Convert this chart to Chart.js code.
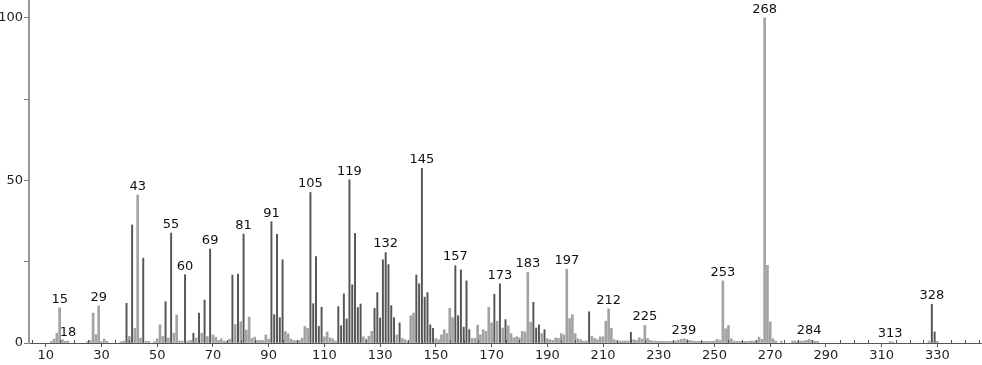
<!DOCTYPE html>
<html>
<head>
<meta charset="utf-8">
<title>Mass spectrum</title>
<script src="https://cdn.jsdelivr.net/npm/chart.js@4"></script>
<style>
  html, body { margin: 0; padding: 0; background: #fff; }
  #wrap { width: 982px; height: 365px; position: relative; }
</style>
</head>
<body>
<div id="wrap"><canvas id="spectrum"></canvas></div>
<script>
// m/z values and relative intensities (%)
const masses = [
  12, 13, 14, 15, 16, 17, 18, 25, 26, 27, 28, 29, 30, 31, 32, 37, 38, 39, 40, 41,
  42, 43, 44, 45, 46, 47, 49, 50, 51, 52, 53, 54, 55, 56, 57, 58, 59, 60, 61, 62,
  63, 64, 65, 66, 67, 68, 69, 70, 71, 72, 73, 74, 75, 76, 77, 78, 79, 80, 81, 82,
  83, 84, 85, 86, 87, 88, 89, 90, 91, 92, 93, 94, 95, 96, 97, 98, 99, 100, 101, 102,
  103, 104, 105, 106, 107, 108, 109, 110, 111, 112, 113, 114, 115, 116, 117, 118, 119, 120, 121, 122,
  123, 124, 125, 126, 127, 128, 129, 130, 131, 132, 133, 134, 135, 136, 137, 138, 139, 140, 141, 142,
  143, 144, 145, 146, 147, 148, 149, 150, 151, 152, 153, 154, 155, 156, 157, 158, 159, 160, 161, 162,
  163, 164, 165, 166, 167, 168, 169, 170, 171, 172, 173, 174, 175, 176, 177, 178, 179, 180, 181, 182,
  183, 184, 185, 186, 187, 188, 189, 190, 191, 192, 193, 194, 195, 196, 197, 198, 199, 200, 201, 202,
  203, 204, 205, 206, 207, 208, 209, 210, 211, 212, 213, 214, 215, 216, 217, 218, 219, 220, 221, 222,
  223, 224, 225, 226, 227, 228, 229, 230, 231, 232, 233, 234, 235, 236, 237, 238, 239, 240, 241, 242,
  243, 244, 245, 246, 247, 248, 249, 250, 251, 252, 253, 254, 255, 256, 257, 258, 259, 260, 261, 262,
  263, 264, 265, 266, 267, 268, 269, 270, 271, 272, 274, 278, 279, 280, 281, 282, 283, 284, 285, 286,
  287, 313, 314, 327, 328, 329, 330
];
const intensities = [
  0.5, 1.2, 3.0, 10.8, 1.0, 0.5, 0.6, 0.4, 0.8, 9.2, 2.6, 11.4, 0.4, 1.2, 0.5, 0.4, 0.6, 12.2, 2.0, 36.3,
  4.5, 45.5, 1.5, 26.1, 0.5, 0.5, 0.4, 1.3, 5.6, 2.0, 12.7, 1.5, 33.8, 3.0, 8.6, 0.6, 0.6, 21.0, 0.6, 0.8,
  3.0, 1.5, 9.2, 3.0, 13.2, 2.0, 28.9, 2.5, 1.8, 0.8, 1.3, 0.6, 0.6, 1.2, 20.9, 5.7, 21.2, 6.5, 33.5, 4.0,
  8.0, 1.4, 1.8, 0.8, 0.8, 0.8, 2.5, 1.2, 37.3, 8.7, 33.4, 7.8, 25.6, 3.5, 2.8, 1.2, 0.8, 0.6, 0.8, 1.5,
  5.1, 4.5, 46.3, 12.1, 26.6, 5.1, 11.0, 1.9, 3.4, 1.6, 1.3, 0.6, 11.2, 5.3, 15.1, 7.4, 50.2, 17.9, 33.7, 10.9,
  12.0, 1.9, 1.2, 2.1, 3.6, 10.7, 15.5, 7.7, 25.6, 27.8, 24.1, 11.5, 7.8, 2.5, 6.2, 1.4, 1.0, 0.6, 8.4, 9.2,
  20.9, 18.2, 53.7, 14.1, 15.5, 5.6, 4.5, 1.4, 1.0, 2.5, 4.1, 2.9, 10.7, 7.8, 23.8, 8.4, 22.5, 4.9, 19.1, 4.1,
  1.4, 1.4, 5.5, 2.5, 4.1, 3.6, 11.0, 6.2, 15.0, 6.7, 18.2, 4.6, 7.2, 5.3, 2.9, 1.6, 1.9, 1.6, 3.6, 3.4,
  21.7, 6.4, 12.5, 4.6, 5.6, 2.9, 4.1, 1.3, 1.0, 0.8, 1.6, 1.4, 2.9, 2.5, 22.7, 7.5, 8.7, 2.9, 1.3, 1.0,
  0.6, 0.6, 9.6, 2.1, 1.4, 1.0, 1.9, 1.9, 6.7, 10.5, 4.5, 1.0, 0.6, 0.6, 0.6, 0.6, 0.6, 3.3, 1.0, 0.8,
  1.6, 1.2, 5.4, 1.4, 0.8, 0.6, 0.6, 0.5, 0.5, 0.5, 0.5, 0.5, 0.5, 0.6, 0.8, 1.1, 1.3, 1.1, 0.8, 0.6,
  0.5, 0.5, 0.5, 0.5, 0.5, 0.5, 0.5, 0.6, 1.1, 0.8, 19.1, 4.4, 5.4, 1.3, 0.6, 0.5, 0.5, 0.5, 0.5, 0.5,
  0.6, 0.6, 0.8, 1.8, 1.1, 100, 23.9, 6.5, 1.3, 0.6, 0.5, 0.6, 0.6, 0.6, 0.6, 0.6, 0.8, 1.1, 0.8, 0.5,
  0.5, 0.4, 0.3, 0.6, 11.9, 3.4, 0.5
];
// peaks that carry an m/z label
const labeledMasses = [15, 18, 29, 43, 55, 60, 69, 81, 91, 105, 119, 132, 145, 157, 173, 183, 197, 212, 225, 239, 253, 268, 284, 313, 328];
// peaks drawn as thin dark lines (the rest are light grey)
const darkMasses = [39, 41, 45, 53, 55, 60, 63, 65, 67, 69, 77, 79, 81, 91, 92, 93, 94, 95, 105, 106, 107, 108, 109,
  115, 116, 117, 118, 119, 120, 121, 122, 123, 128, 129, 130, 131, 132, 133, 134, 135, 137, 143, 144, 145, 146, 147,
  148, 149, 157, 158, 159, 160, 161, 162, 171, 173, 175, 185, 186, 187, 189, 205, 220, 328, 329];
const xTickLabels = [10, 30, 50, 70, 90, 110, 130, 150, 170, 190, 210, 230, 250, 270, 290, 310, 330];
const yTickLabels = [0, 50, 100];

const FONT = '"DejaVu Sans", sans-serif';

function punti(filtro) {
    return masses.map((m, i) => ({ x: m, y: intensities[i] })).filter(p => filtro(p.x));
}

const isDark = m => darkMasses.includes(m);

// m/z labels above the labelled peaks, plus small minor ticks above the axis
const peakLabels = {
    id: "peakLabels",
    afterDatasetsDraw(chart) {
        const ctx = chart.ctx;
        const xs = chart.scales.x;
        const ys = chart.scales.y;
        ctx.save();
        ctx.font = "13px " + FONT;
        ctx.fillStyle = "#111";
        ctx.textAlign = "center";
        ctx.textBaseline = "bottom";
        labeledMasses.forEach(m => {
            const i = masses.indexOf(m);
            ctx.fillText(String(m), xs.getPixelForValue(m), ys.getPixelForValue(intensities[i]) - 2);
        });

        const base = ys.getPixelForValue(0);
        ctx.strokeStyle = "#555";
        ctx.lineWidth = 1;
        for (let v = 5; v < 346; v += 5) {
            if (xTickLabels.includes(v)) continue;
            const px = Math.round(xs.getPixelForValue(v)) + 0.5;
            ctx.beginPath();
            ctx.moveTo(px, base);
            ctx.lineTo(px, base - 3);
            ctx.stroke();
        }
        ctx.restore();
    }
};

new Chart(document.getElementById("spectrum"), {
    type: "bar",
    data: {
        datasets: [
            {
                label: "light",
                data: punti(m => !isDark(m)),
                backgroundColor: "#a3a3a3",
                barThickness: 2,
                grouped: false
            },
            {
                label: "dark",
                data: punti(isDark),
                backgroundColor: "#555",
                barThickness: 1.3,
                grouped: false
            }
        ]
    },
    options: {
        responsive: true,
        maintainAspectRatio: false,
        animation: false,
        layout: { padding: 0 },
        plugins: {
            legend: { display: false },
            tooltip: { enabled: false }
        },
        scales: {
            x: {
                type: "linear",
                offset: false,
                min: 4,
                max: 346,
                afterBuildTicks: s => { s.ticks = xTickLabels.map(v => ({ value: v })); },
                afterFit: s => { s.height = 22; s.paddingLeft = 0; s.paddingRight = 0; },
                ticks: {
                    autoSkip: false,
                    maxRotation: 0,
                    padding: 1,
                    color: "#222",
                    font: { family: FONT, size: 13 }
                },
                grid: { offset: false, drawOnChartArea: false, tickLength: 4, color: "#555" },
                border: { color: "#555", width: 1 }
            },
            y: {
                min: 0,
                max: 105.5,
                afterBuildTicks: s => { s.ticks = [0, 25, 50, 75, 100].map(v => ({ value: v })); },
                afterFit: s => { s.width = 29; s.paddingTop = 0; s.paddingBottom = 0; },
                ticks: {
                    padding: 1,
                    color: "#222",
                    font: { family: FONT, size: 13 },
                    callback: v => yTickLabels.includes(v) ? String(v) : ""
                },
                grid: { drawOnChartArea: false, tickLength: 5, color: "#777" },
                border: { color: "#999", width: 2 }
            }
        }
    },
    plugins: [peakLabels]
});
</script>
</body>
</html>
